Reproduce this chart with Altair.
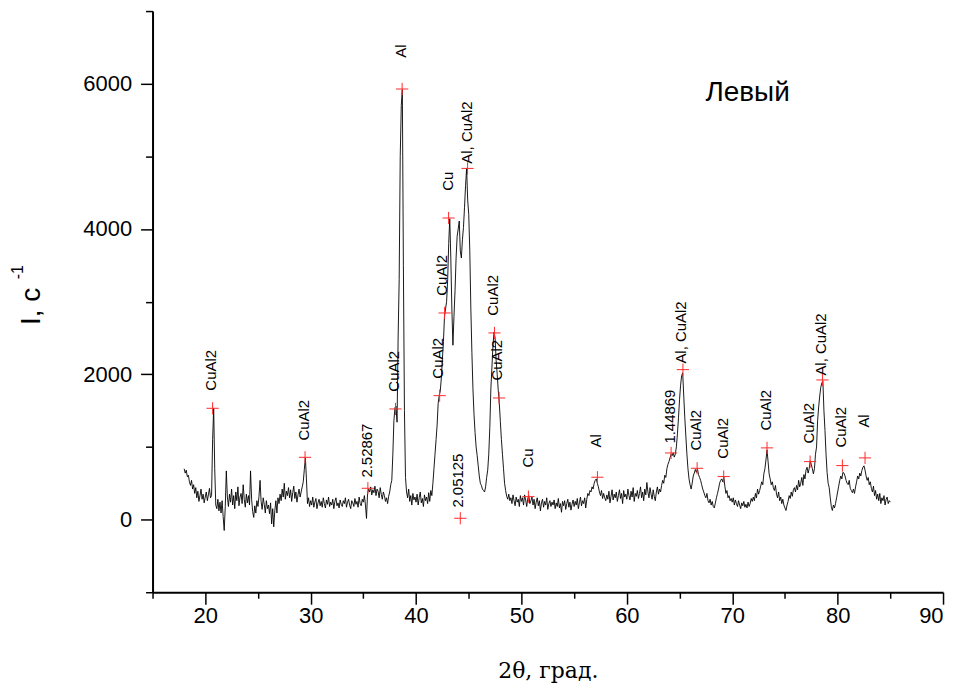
import altair as alt
import pandas as pd

# --- XRD pattern, intensity every 0.1 deg (2theta from 18.0 to 85.0)
two_theta_start = 18.0
two_theta_step = 0.1
intensity = [
    700, 640, 680, 590, 610, 520, 470, 540, 420, 480,      # 18
    360, 440, 300, 390, 250, 330, 420, 280, 350, 230,      # 19
    310, 380, 260, 340, 430, 300, 330, 1100, 1530, 700,    # 20
    200, 150, 280, 120, 240, 90, 260, 40, -150, 180,       # 21
    670, 310, 180, 350, 240, 420, 200, 330, 150, 380,      # 22
    260, 450, 190, 310, 360, 220, 480, 280, 170, 350,      # 23
    230, 330, 200, 670, 280, 110, 30, 190, 90, 260,        # 24
    180, 320, 540, 250, 140, 300, 210, 90, 260, 150,       # 25
    200, 80, 230, -60, 150, -100, 120, 260, 90, 300,       # 26
    220, 350, 260, 420, 310, 500, 280, 390, 330, 440,      # 27
    300, 410, 250, 370, 460, 290, 380, 240, 340, 420,      # 28
    310, 380, 450, 520, 690, 850, 560, 220, 300, 180,      # 29
    260, 200, 310, 170, 240, 290, 150, 230, 280, 190,      # 30
    250, 170, 300, 220, 160, 270, 210, 310, 180, 240,      # 31
    200, 280, 150, 250, 300, 190, 230, 160, 270, 210,      # 32
    180, 260, 220, 300, 170, 240, 280, 200, 150, 260,      # 33
    230, 180, 290, 210, 250, 170, 310, 220, 190, 280,      # 34
    240, 330, 200, 15, 360, 420, 380, 450, 340, 410,       # 35
    370, 460, 330, 420, 390, 300, 440, 350, 280, 380,      # 36
    330, 250, 300, 220, 320, 380, 480, 540, 900, 1360,     # 37
    1541, 1560, 1340, 2500, 3300, 5000, 5700, 5920, 3500, 1500,  # 38
    580, 380, 300, 420, 250, 330, 200, 360, 270, 310,      # 39
    240, 350, 200, 300, 380, 230, 290, 180, 340, 260,      # 40
    310, 220, 370, 250, 400, 330, 500, 700, 900, 1100,     # 41
    1300, 1600, 1710, 1770, 1950, 2200, 2450, 2800, 2900, 3000,  # 42
    3300, 3800, 4140, 3600, 2900, 2400, 2800, 3150, 3600, 3900,  # 43
    4000, 4110, 3700, 3600, 3850, 4020, 4300, 4600, 4840, 4400,  # 44
    4200, 3700, 2900, 2300, 1800, 1450, 1200, 1000, 880, 740,    # 45
    600, 500, 470, 420, 400, 380, 450, 580, 680, 900,      # 46
    1270, 1800, 2100, 2400, 2580, 2500, 2190, 2000, 1780, 1600,  # 47
    1350, 1100, 900, 700, 500, 400, 320, 280, 350, 260,    # 48
    300, 220, 340, 260, 190, 310, 240, 280, 180, 330,      # 49
    250, 300, 200, 340, 270, 180, 290, 330, 220, 260,      # 50
    310, 200, 280, 150, 240, 300, 190, 260, 120, 230,      # 51
    280, 170, 250, 200, 300, 140, 220, 260, 180, 240,      # 52
    200, 270, 150, 230, 180, 290, 160, 220, 100, 250,      # 53
    190, 260, 140, 220, 280, 170, 240, 130, 210, 270,      # 54
    180, 250, 200, 290, 150, 230, 310, 190, 260, 220,      # 55
    300, 160, 280, 360, 330, 400, 380, 450, 420, 500,      # 56
    540, 560, 500, 450, 380, 330, 400, 290, 360, 300,      # 57
    260, 340, 280, 390, 230, 320, 410, 270, 350, 300,      # 58
    380, 250, 330, 410, 290, 360, 220, 400, 310, 350,      # 59
    280, 420, 330, 270, 390, 310, 440, 250, 360, 320,      # 60
    400, 290, 360, 450, 300, 380, 260, 420, 340, 510,      # 61
    380, 300, 440, 350, 280, 410, 320, 260, 380, 450,      # 62
    350, 420, 380, 470, 540, 500, 610, 580, 700, 760,      # 63
    800, 850, 900, 880, 920, 860, 900, 1000, 1180, 1400,   # 64
    1650, 1850, 1980, 2020, 1700, 1400, 1150, 900, 700, 560,  # 65
    480, 420, 500, 600, 640, 690, 650, 700, 620, 580,      # 66
    540, 480, 420, 380, 330, 300, 360, 260, 230, 280,      # 67
    200, 250, 180, 160, 230, 300, 360, 420, 500, 540,      # 68
    560, 520, 590, 460, 360, 400, 300, 330, 260, 290,      # 69
    240, 300, 200, 270, 220, 180, 260, 200, 150, 230,      # 70
    190, 250, 170, 210, 160, 240, 180, 220, 290, 250,      # 71
    310, 260, 360, 300, 420, 350, 400, 460, 520, 480,      # 72
    630, 700, 820, 960, 800, 630, 560, 480, 520, 440,      # 73
    400, 470, 350, 300, 380, 260, 310, 220, 280, 200,      # 74
    160, 125, 200, 250, 330, 290, 380, 320, 410, 440,      # 75
    380, 470, 410, 540, 450, 500, 580, 470, 620, 560,      # 76
    680, 720, 640, 700, 810, 760, 700, 630, 700, 900,      # 77
    1000, 1360, 1550, 1700, 1820, 1880, 1910, 1500, 1225, 900,  # 78
    650, 500, 440, 300, 180, 125, 200, 160, 220, 300,      # 79
    380, 460, 540, 600, 560, 650, 640, 600, 540, 500,      # 80
    480, 540, 430, 400, 370, 420, 360, 450, 520, 600,      # 81
    560, 640, 600, 675, 720, 740, 680, 600, 540, 580,      # 82
    480, 520, 430, 380, 460, 330, 400, 280, 350, 260,      # 83
    360, 220, 300, 260, 330, 200, 280, 310, 220, 260,      # 84
    240,                                                   # 85
]
two_theta = [round(two_theta_start + i * two_theta_step, 2) for i in range(len(intensity))]

# --- marked peaks (red crosses)
peak_x = [20.70, 29.47, 35.43, 38.05, 38.68, 42.24, 42.71, 43.09, 44.89, 44.20,
          47.44, 47.88, 50.66, 57.21, 64.20, 65.32, 66.67, 69.19, 73.30, 77.39,
          78.56, 80.45, 82.60]
peak_y = [1532, 857, 431, 1523, 5927, 1706, 2844, 4151, 4834, 18,
          2569, 1674, 316, 583, 917, 2064, 706, 592, 987, 798,
          1922, 743, 849]

# --- phase labels
label_text = ["CuAl2", "CuAl2", "2.52867", "CuAl2", "Al", "CuAl2", "CuAl2", "Cu",
              "Al, CuAl2", "2.05125", "CuAl2", "CuAl2", "Cu", "Al", "1.44869",
              "Al, CuAl2", "CuAl2", "CuAl2", "CuAl2", "CuAl2", "Al, CuAl2",
              "CuAl2", "Al"]
label_x = [20.55, 29.38, 35.33, 37.90, 38.58, 42.08, 42.46, 43.00, 44.82, 44.03,
           47.35, 47.72, 50.60, 57.06, 64.05, 65.16, 66.52, 69.10, 73.20, 77.30,
           78.40, 80.29, 82.50]
label_y = [1775, 1087, 578, 1761, 6357, 1940, 3082, 4527, 4899, 165,
           2807, 1913, 716, 991, 1046, 2147, 950, 839, 1225, 1046,
           1982, 991, 1266]

sample_name = "Левый"
sample_x = [71.46]
sample_y = [5876]

x_ticks = list(range(15, 91, 5))
y_ticks = list(range(-1000, 7001, 1000))

x_title = "2θ, град."
y_title_main = "I, c"
y_title_sup = "-1"

W, H = 793, 583

xscale = alt.Scale(domain=[15, 90], nice=False, zero=False)
yscale = alt.Scale(domain=[-1000, 7000], nice=False, zero=False)

xaxis = alt.Axis(
    values=x_ticks, grid=False, format="d",
    tickSize={"condition": {"test": "datum.value % 10 === 0", "value": 12}, "value": 6},
    labelExpr="datum.value % 10 === 0 ? datum.label : ''",
    labelPadding=1,
    title=x_title, titleFont="DejaVu Serif", titleFontSize=22,
    titleFontWeight="normal", titleBaseline="alphabetic", titleY=86,
    titleColor="black",
)
yaxis = alt.Axis(
    values=y_ticks, grid=False, format="d",
    tickSize={"condition": {"test": "datum.value % 2000 === 0", "value": 12}, "value": 7},
    labelExpr="datum.value % 2000 === 0 ? datum.label : ''",
    labelPadding=9, title=None,
)

X = alt.X("x:Q", scale=xscale, axis=xaxis)
Y = alt.Y("y:Q", scale=yscale, axis=yaxis)

df_line = pd.DataFrame({"x": two_theta, "y": intensity})
df_peaks = pd.DataFrame({"x": peak_x, "y": peak_y})
df_labels = pd.DataFrame({"x": label_x, "y": label_y, "t": label_text})
df_sample = pd.DataFrame({"x": sample_x, "y": sample_y, "t": [sample_name]})
df_one = pd.DataFrame({"t": [y_title_main]})
df_sup = pd.DataFrame({"t": [y_title_sup]})

line = alt.Chart(df_line).mark_line(color="#000000", strokeWidth=0.9).encode(x=X, y=Y)

crosses = alt.Chart(df_peaks).mark_point(
    shape="M-1,0L1,0M0,-1L0,1", filled=False, color="#ff2a2a",
    strokeWidth=1, size=150, opacity=1,
).encode(x=X, y=Y)

labels = alt.Chart(df_labels).mark_text(
    angle=270, align="left", baseline="middle", font="Liberation Sans",
    fontSize=15, color="black",
).encode(x=X, y=Y, text="t:N")

sample = alt.Chart(df_sample).mark_text(
    align="center", baseline="middle", font="Liberation Sans",
    fontSize=28, color="black",
).encode(x=X, y=Y, text="t:N")

ytitle = alt.Chart(df_one).mark_text(
    angle=270, align="left", baseline="alphabetic", font="Liberation Sans",
    fontSize=28, color="black",
).encode(x=alt.value(-113), y=alt.value(315), text="t:N")

ysup = alt.Chart(df_sup).mark_text(
    angle=270, align="left", baseline="alphabetic", font="Liberation Sans",
    fontSize=16, color="black",
).encode(x=alt.value(-130), y=alt.value(269), text="t:N")

chart = alt.layer(line, crosses, labels, sample, ytitle, ysup).properties(
    width=W, height=H,
    autosize=alt.AutoSizeParams(type="none"),
    padding={"left": 145, "top": 2, "right": 10, "bottom": 92},
).configure_axis(
    labelFont="Liberation Sans", labelFontSize=22, labelColor="black",
    domainColor="black", domainWidth=2, tickColor="black", tickWidth=1.5,
).configure_view(stroke=None)

chart.save("out.html", embed_options={"renderer": "svg", "actions": False})
